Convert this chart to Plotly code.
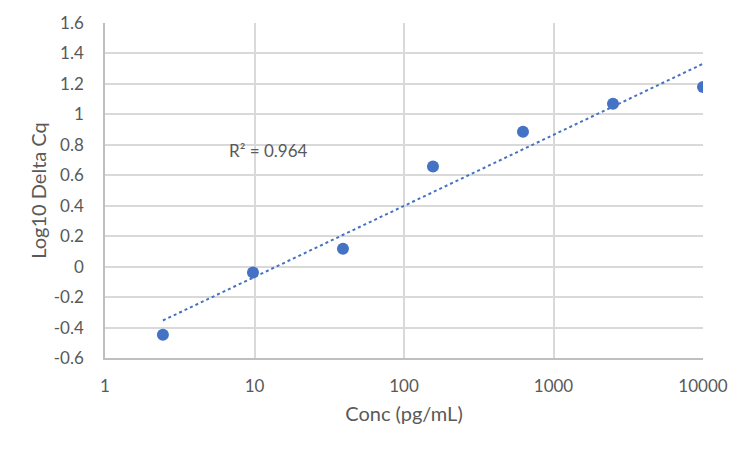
import numpy as np
import plotly.graph_objects as go

# data
conc = [2.44, 9.77, 39.06, 156.25, 625, 2500, 10000]
log_dcq = [-0.447, -0.039, 0.118, 0.657, 0.886, 1.07, 1.18]
x_ticks = [1, 10, 100, 1000, 10000]
y_ticks = [-0.6, -0.4, -0.2, 0, 0.2, 0.4, 0.6, 0.8, 1, 1.2, 1.4, 1.6]
r2_label = 'R² = 0.964'

# log-linear trendline like Excel's
lx = np.log10(conc)
slope, intercept = np.polyfit(lx, log_dcq, 1)
trend_x = [conc[0], conc[-1]]
trend_y = [intercept + slope * np.log10(v) for v in trend_x]

blue = '#4472C4'
grey_text = '#595959'
font = 'Lato'

points = go.Scatter(x=conc, y=log_dcq, mode='markers',
                    marker=dict(color=blue, size=12), showlegend=False)
trend = go.Scatter(x=trend_x, y=trend_y, mode='lines',
                   line=dict(color=blue, width=2, dash='dot'), showlegend=False)

layout = go.Layout(
    width=750, height=450,
    margin=dict(l=97, r=55, t=15, b=100),
    paper_bgcolor='white', plot_bgcolor='white',
    font=dict(family=font, size=17, color=grey_text),
    xaxis=dict(type='log', range=[0, 4], tickvals=x_ticks,
               ticktext=[str(v) for v in x_ticks], automargin=False,
               showgrid=True, gridcolor='#D9D9D9', gridwidth=1.5,
               showline=True, linecolor='#BFBFBF', linewidth=1.5,
               zeroline=False, ticks='', ticklabelstandoff=12,
               title=dict(text='Conc (pg/mL)', standoff=12)),
    yaxis=dict(range=[-0.6, 1.6], tickvals=y_ticks,
               ticktext=[f'{v:g}' for v in y_ticks], automargin=False,
               showgrid=True, gridcolor='#D9D9D9', gridwidth=1.5,
               showline=True, linecolor='#BFBFBF', linewidth=1.5,
               zeroline=False, ticks='', ticklabelstandoff=16,
               title=dict(text='Log10 Delta Cq', standoff=2)),
    annotations=[dict(x=np.log10(12.3), y=0.766, xref='x', yref='y',
                      text=r2_label, showarrow=False,
                      font=dict(family=font, size=17, color=grey_text))],
)

fig = go.Figure(data=[trend, points], layout=layout)
fig.write_html('out.html')
